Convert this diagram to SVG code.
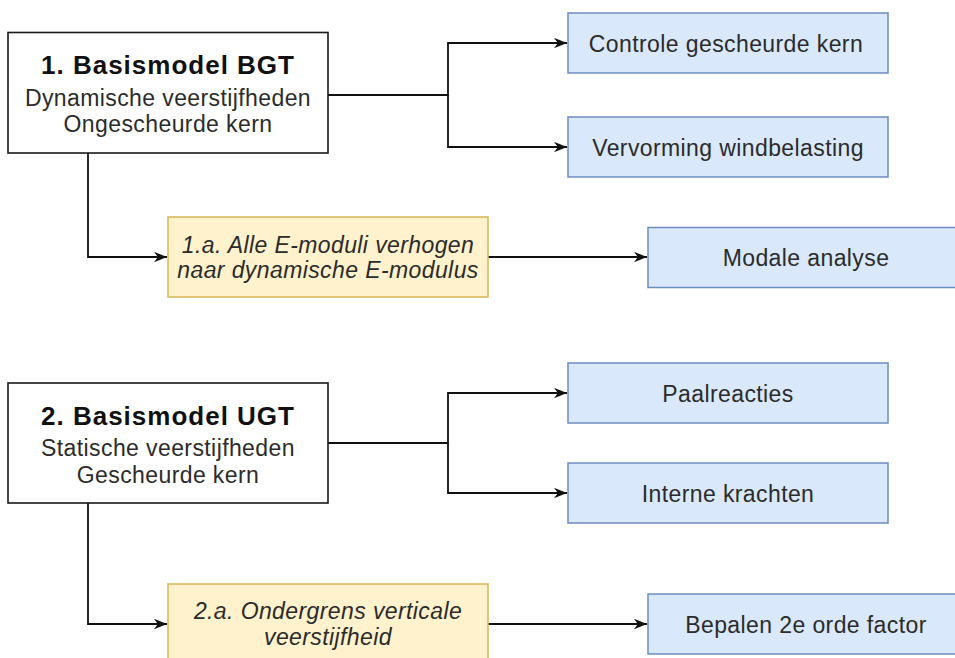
<svg xmlns="http://www.w3.org/2000/svg" width="955" height="658" viewBox="0 0 955 658">
<defs>
<style>
.main{fill:#ffffff;stroke:#1a1a1a;stroke-width:1.6}
.blue{fill:#dae8fc;stroke:#6c8ebf;stroke-width:1.5}
.yel{fill:#fff2cc;stroke:#d6b656;stroke-width:1.5}
text{font-family:"Liberation Sans",Arial,sans-serif;fill:#2b2b2b;text-anchor:middle;font-size:23px;letter-spacing:0.4px}
.title{font-weight:bold;font-size:26px;fill:#111;letter-spacing:1px}
.it{font-style:italic}
.conn path{fill:none;stroke:#111;stroke-width:1.8}
</style>
<marker id="arr" viewBox="0 0 10 8" refX="10" refY="4" markerWidth="13" markerHeight="11" markerUnits="userSpaceOnUse" orient="auto">
<path d="M0,0 L10,4 L0,8 L3,4 Z" fill="#111"/>
</marker>
</defs>
<rect width="955" height="658" fill="#ffffff"/>
<g class="conn">
<path d="M328,95 H448 V43 H567" marker-end="url(#arr)"/>
<path d="M448,95 V147 H567" marker-end="url(#arr)"/>
<path d="M88,153 V257 H167" marker-end="url(#arr)"/>
<path d="M488,257 H647" marker-end="url(#arr)"/>
<path d="M328,443 H448 V393 H567" marker-end="url(#arr)"/>
<path d="M448,443 V493 H567" marker-end="url(#arr)"/>
<path d="M88,503 V624 H167" marker-end="url(#arr)"/>
<path d="M488,624 H647" marker-end="url(#arr)"/>
</g>
<g id="n1">
<rect class="main" x="8" y="32.5" width="320" height="120.5"/>
<text class="title" x="168" y="74">1. Basismodel BGT</text>
<text x="168" y="106">Dynamische veerstijfheden</text>
<text x="168" y="132">Ongescheurde kern</text>
</g>
<g id="n1a">
<rect class="yel" x="168" y="217" width="320" height="80"/>
<text class="it" x="328" y="252.5">1.a. Alle E-moduli verhogen</text>
<text class="it" x="328" y="278">naar dynamische E-modulus</text>
</g>
<g id="n_controle">
<rect class="blue" x="568" y="13" width="320" height="60"/>
<text x="726" y="52">Controle gescheurde kern</text>
</g>
<g id="n_vervorming">
<rect class="blue" x="568" y="117" width="320" height="60"/>
<text x="728" y="156">Vervorming windbelasting</text>
</g>
<g id="n_modale">
<rect class="blue" x="648" y="227.5" width="320" height="60"/>
<text x="806" y="266">Modale analyse</text>
</g>
<g id="n2">
<rect class="main" x="8" y="383" width="320" height="120"/>
<text class="title" x="168" y="425">2. Basismodel UGT</text>
<text x="168" y="456">Statische veerstijfheden</text>
<text x="168" y="483">Gescheurde kern</text>
</g>
<g id="n_paal">
<rect class="blue" x="568" y="363" width="320" height="60"/>
<text x="728" y="402">Paalreacties</text>
</g>
<g id="n_interne">
<rect class="blue" x="568" y="463" width="320" height="60"/>
<text x="728" y="502">Interne krachten</text>
</g>
<g id="n2a">
<rect class="yel" x="168" y="584" width="320" height="80"/>
<text class="it" x="328" y="618.5">2.a. Ondergrens verticale</text>
<text class="it" x="328" y="645">veerstijfheid</text>
</g>
<g id="n_bepalen">
<rect class="blue" x="648" y="594" width="320" height="60"/>
<text x="806" y="633">Bepalen 2e orde factor</text>
</g>
</svg>
